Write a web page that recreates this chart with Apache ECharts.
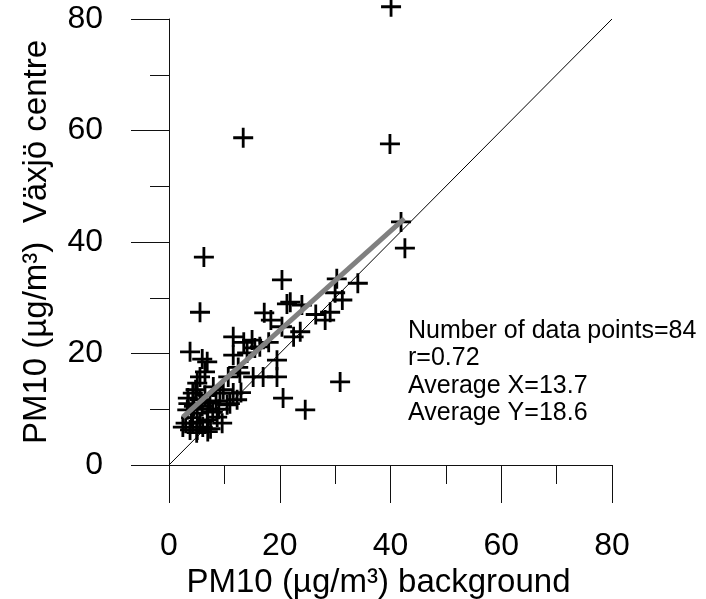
<!DOCTYPE html>
<html>
<head>
<meta charset="utf-8">
<script src="https://cdn.jsdelivr.net/npm/echarts@6/dist/echarts.min.js"></script>
<style>
html,body{margin:0;padding:0;background:#fff;}
#chart{width:706px;height:599px;}
</style>
</head>
<body>
<div id="chart"></div>
<script>
// Data
var xTicks = [0, 20, 40, 60, 80];
var yTicks = [0, 20, 40, 60, 80];
var bgX = [40.1, 39.9, 13.4, 6.3, 41.9, 42.6, 34.1, 30.3, 30.0, 31.3, 29.1, 28.2, 24.0, 23.7, 21.9, 30.9, 24.6, 5.6, 20.4, 21.3,
           18.4, 20.4, 11.6, 15.0, 16.4, 11.6, 14.1, 3.8, 6.9, 6.5, 5.6, 5.1, 19.5, 19.5, 17.0, 15.2, 12.8, 10.7, 20.6, 11.6,
           9.2, 12.3, 3.4, 4.3, 5.6, 7.4, 3.3, 5.1, 8.7, 9.6, 2.5, 3.8, 5.6, 6.9, 5.1, 6.1, 4.3, 7.9, 10.5, 17.2,
           13.5, 8.0, 4.5, 6.5, 7.0, 8.5, 4.0, 3.0, 6.0, 9.0, 5.0, 7.5, 11.0, 13.0, 15.5, 22.5, 18.0, 4.8, 6.0, 12.5,
           26.5, 9.8, 3.5, 7.0];
var centreY = [82.2, 57.6, 58.7, 37.3, 43.6, 38.9, 32.6, 33.4, 30.9, 29.6, 27.4, 26.0, 28.7, 23.9, 29.2, 14.9, 9.9, 27.4, 33.2, 28.9,
               26.0, 24.8, 23.0, 22.4, 21.2, 19.7, 20.1, 20.3, 18.5, 16.7, 15.8, 14.7, 18.8, 15.8, 15.8, 15.8, 16.5, 15.8, 12.0, 12.9,
               12.9, 11.7, 12.0, 12.9, 11.7, 11.1, 9.9, 9.3, 8.6, 7.5, 6.8, 6.3, 7.7, 8.1, 6.3, 6.8, 7.5, 9.5, 10.8, 27.3,
               22.0, 14.0, 10.5, 12.5, 10.0, 11.5, 8.5, 7.5, 10.5, 10.0, 5.8, 6.5, 11.0, 13.0, 21.0, 23.0, 22.0, 13.5, 19.0, 17.5,
               27.0, 13.5, 11.0, 6.0];
var fitX = [2.5, 42.5];
var fitY = [8.6, 44.2];
var oneToOneX = [0, 80];
var oneToOneY = [0, 80];
var statLines = ['Number of data points=84', 'r=0.72', 'Average X=13.7', 'Average Y=18.6'];

function pairs(a, b) { return a.map(function (v, i) { return [v, b[i]]; }); }

var font = '"Liberation Sans", Arial, sans-serif';
var axisColor = '#111';
var chart = echarts.init(document.getElementById('chart'), null, {renderer: 'canvas'});
chart.setOption({
  animation: false,
  backgroundColor: '#fff',
  textStyle: {fontFamily: font},
  grid: {left: 169, right: 94, top: 19, bottom: 134, containLabel: false, outerBoundsMode: 'none'},
  xAxis: {
    type: 'value', min: xTicks[0], max: xTicks[xTicks.length - 1], interval: 20,
    name: 'PM10 (µg/m³) background',
    nameLocation: 'middle', nameGap: 94,
    nameTextStyle: {fontFamily: font, fontSize: 33, color: '#000', padding: [0, 24, 0, 0]},
    axisLine: {show: true, onZero: false, lineStyle: {color: axisColor, width: 1}},
    axisTick: {show: true, inside: false, length: 38, lineStyle: {color: axisColor, width: 1}},
    minorTick: {show: true, splitNumber: 2, length: 19, lineStyle: {color: axisColor, width: 1}},
    splitLine: {show: false},
    minorSplitLine: {show: false},
    axisLabel: {fontFamily: font, fontSize: 32, color: '#000', margin: 65, showMinLabel: true, showMaxLabel: true}
  },
  yAxis: {
    type: 'value', min: yTicks[0], max: yTicks[yTicks.length - 1], interval: 20,
    name: 'PM10 (µg/m³)  Växjö centre',
    nameLocation: 'middle', nameGap: 116,
    nameTextStyle: {fontFamily: font, fontSize: 33, color: '#000'},
    axisLine: {show: true, onZero: false, lineStyle: {color: axisColor, width: 1}},
    axisTick: {show: true, inside: false, length: 38, lineStyle: {color: axisColor, width: 1}},
    minorTick: {show: true, splitNumber: 2, length: 19, lineStyle: {color: axisColor, width: 1}},
    splitLine: {show: false},
    minorSplitLine: {show: false},
    axisLabel: {fontFamily: font, fontSize: 32, color: '#000', margin: 66, showMinLabel: true, showMaxLabel: true}
  },
  graphic: [{
    type: 'text', left: 408, top: 317, z: 100,
    style: {text: statLines.join('\n'), fontFamily: font, fontSize: 25, lineHeight: 27.5, fill: '#000'}
  }],
  series: [
    {
      type: 'scatter', name: 'obs', clip: false,
      symbol: 'path://M8.6,0H11.4V20H8.6Z M0,8.6H20V11.4H0Z',
      symbolSize: 20,
      itemStyle: {color: '#000', opacity: 1},
      data: pairs(bgX, centreY), z: 2
    },
    {
      type: 'line', name: '1:1', showSymbol: false, symbol: 'none',
      lineStyle: {color: '#000', width: 1}, data: pairs(oneToOneX, oneToOneY), z: 3
    },
    {
      type: 'line', name: 'fit', showSymbol: false, symbol: 'none',
      lineStyle: {color: '#808080', width: 5}, data: pairs(fitX, fitY), z: 4
    }
  ]
});
</script>
</body>
</html>
